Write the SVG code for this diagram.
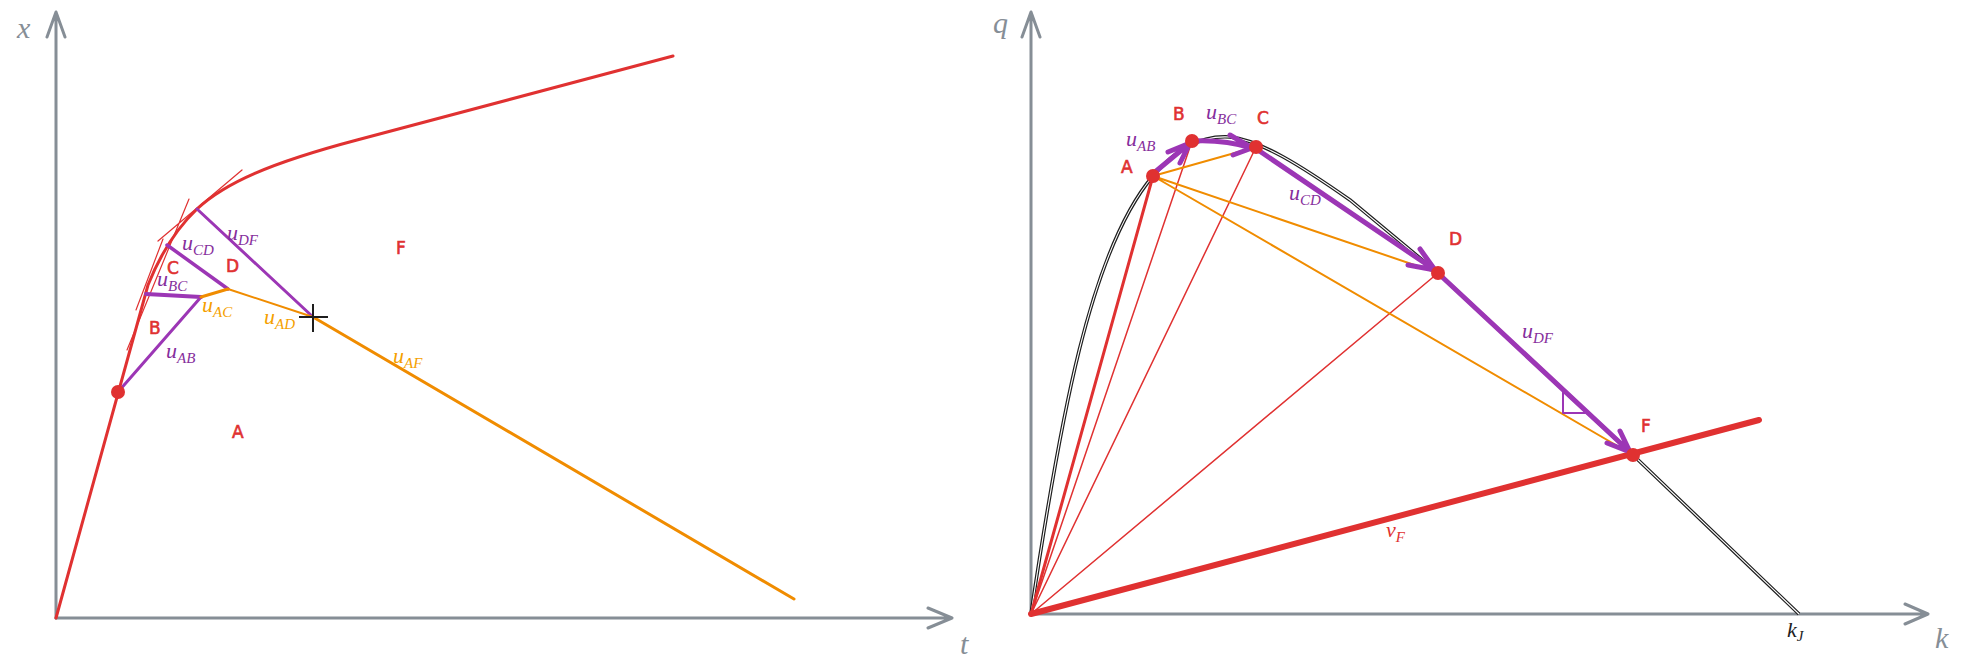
<svg xmlns="http://www.w3.org/2000/svg" width="1966" height="663" viewBox="0 0 1966 663">
<style>
.axis{stroke:#868e96;stroke-width:3;fill:none;stroke-linecap:round;stroke-linejoin:round}
.red{stroke:#e03131;fill:none;stroke-linecap:round;stroke-linejoin:round}
.pur{stroke:#9c36b5;fill:none;stroke-linecap:round;stroke-linejoin:round}
.org{stroke:#f08c00;fill:none;stroke-linecap:round}
.dot{fill:#e03131}
.math{font-family:"Liberation Serif",serif;font-style:italic}
.hand{font-family:"DejaVu Sans",sans-serif;fill:#e03131;stroke:#e03131;stroke-width:0.6;font-size:17px}
.ml{fill:#862e9c;font-size:22px}
.ol{fill:#f59f00;font-size:22px}
.ax{fill:#868e96;font-size:30px}
</style>
<rect width="1966" height="663" fill="#fff"/>
<g id="axes-left">
<path class="axis" d="M56,618 L56,12 M47,37 L56,12 L65,37"/>
<path class="axis" d="M56,618 L952,618 M928,608 L952,618 L928,628"/>
<text class="math ax" x="17" y="38">x</text>
<text class="math ax" x="960" y="654">t</text>
</g>
<g id="axes-right">
<path class="axis" d="M1031,614 L1031,12 M1022,37 L1031,12 L1040,37"/>
<path class="axis" d="M1031,614 L1928,614 M1905,604 L1928,614 L1905,624"/>
<text class="math ax" x="993" y="33">q</text>
<text class="math ax" x="1935" y="648">k</text>
</g>
<g id="left-diagram">
<path class="red" stroke-width="3" d="M56,618 L148,285 C160,255 175,230 197,209 C225,183 270,163 357,140 L673,56"/>
<path class="red" stroke-width="1.2" d="M127,350 L189,199 M136,310 L163,239 M158,241 L242,170"/>
<path class="pur" stroke-width="3" d="M118,392 L201,297"/>
<path class="pur" stroke-width="4" d="M146,294 L201,297"/>
<path class="pur" stroke-width="3.5" d="M167,245 L228,289"/>
<path class="pur" stroke-width="3" d="M197,209 L313,317"/>
<path class="org" stroke-width="3" d="M201,297 L228,289"/>
<path class="org" stroke-width="2" d="M228,289 L313,317"/>
<path class="org" stroke-width="3" d="M313,317 L794,599"/>
<circle class="dot" cx="118" cy="392" r="7"/>
<path stroke="#1e1e1e" stroke-width="2" d="M299,317 L328,317 M313,304 L313,332"/>
<text class="hand" x="396" y="254">F</text>
<text class="hand" x="232" y="438">A</text>
<text class="hand" x="149" y="334">B</text>
<text class="hand" x="167" y="274">C</text>
<text class="hand" x="226" y="272">D</text>
<text class="math ml" x="227" y="240">u<tspan font-size="15" dy="5">DF</tspan></text>
<text class="math ml" x="182" y="250">u<tspan font-size="15" dy="5">CD</tspan></text>
<text class="math ml" x="157" y="286">u<tspan font-size="15" dy="5">BC</tspan></text>
<text class="math ml" x="166" y="358">u<tspan font-size="15" dy="5">AB</tspan></text>
<text class="math ol" x="202" y="312">u<tspan font-size="15" dy="5">AC</tspan></text>
<text class="math ol" x="264" y="324">u<tspan font-size="15" dy="5">AD</tspan></text>
<text class="math ol" x="393" y="363">u<tspan font-size="15" dy="5">AF</tspan></text>
</g>
<g id="right-diagram">
<path stroke="#1e1e1e" stroke-width="3.5" fill="none" d="M1031,614 C1060,420 1090,250 1153,176 C1175,150 1200,135 1230,137 C1260,140 1300,165 1350,200 L1438,273 L1633,455 L1799,614"/>
<path stroke="#fff" stroke-width="1.1" fill="none" d="M1031,614 C1060,420 1090,250 1153,176 C1175,150 1200,135 1230,137 C1260,140 1300,165 1350,200 L1438,273 L1633,455 L1799,614"/>
<g id="connectors">
<path class="red" stroke-width="3" d="M1031,614 L1153,176"/>
<path class="red" stroke-width="1.5" d="M1031,614 L1192,141 M1031,614 L1256,147 M1031,614 L1438,273"/>
<path class="red" stroke-width="6" d="M1031,614 L1759,420"/>
<path class="org" stroke-width="2" d="M1153,176 L1256,147 M1153,176 L1438,273 M1153,176 L1633,455"/>
<path class="pur" stroke-width="5" d="M1155,172 L1190,143 M1168,152 L1190,143 L1180,163"/>
<path class="pur" stroke-width="5" d="M1194,141 C1215,140 1235,143 1252,148 M1230,135 L1252,148 L1233,155"/>
<path class="pur" stroke-width="5" d="M1258,150 L1435,270 M1420,249 L1435,270 L1408,265"/>
<path class="pur" stroke-width="5" d="M1440,275 L1630,452 M1620,431 L1630,452 L1607,443"/>
<path class="pur" stroke-width="2" d="M1563,392 L1563,413 L1585,413"/>
</g>
<circle id="A" class="dot" cx="1153" cy="176" r="7"/>
<circle id="B" class="dot" cx="1192" cy="141" r="7"/>
<circle id="C" class="dot" cx="1256" cy="147" r="7"/>
<circle id="D" class="dot" cx="1438" cy="273" r="7"/>
<circle id="F" class="dot" cx="1633" cy="455" r="7"/>
<text class="hand" x="1121" y="173">A</text>
<text class="hand" x="1173" y="120">B</text>
<text class="hand" x="1257" y="124">C</text>
<text class="hand" x="1449" y="245">D</text>
<text class="hand" x="1641" y="432">F</text>
<text class="math ml" x="1126" y="146">u<tspan font-size="15" dy="5">AB</tspan></text>
<text class="math ml" x="1206" y="119">u<tspan font-size="15" dy="5">BC</tspan></text>
<text class="math ml" x="1289" y="200">u<tspan font-size="15" dy="5">CD</tspan></text>
<text class="math ml" x="1522" y="338">u<tspan font-size="15" dy="5">DF</tspan></text>
<text class="math" fill="#e03131" font-size="22" x="1386" y="537">v<tspan font-size="15" dy="5">F</tspan></text>
<text class="math" fill="#1e1e1e" font-size="22" x="1787" y="637">k<tspan font-size="15" dy="4">J</tspan></text>
</g>
</svg>
